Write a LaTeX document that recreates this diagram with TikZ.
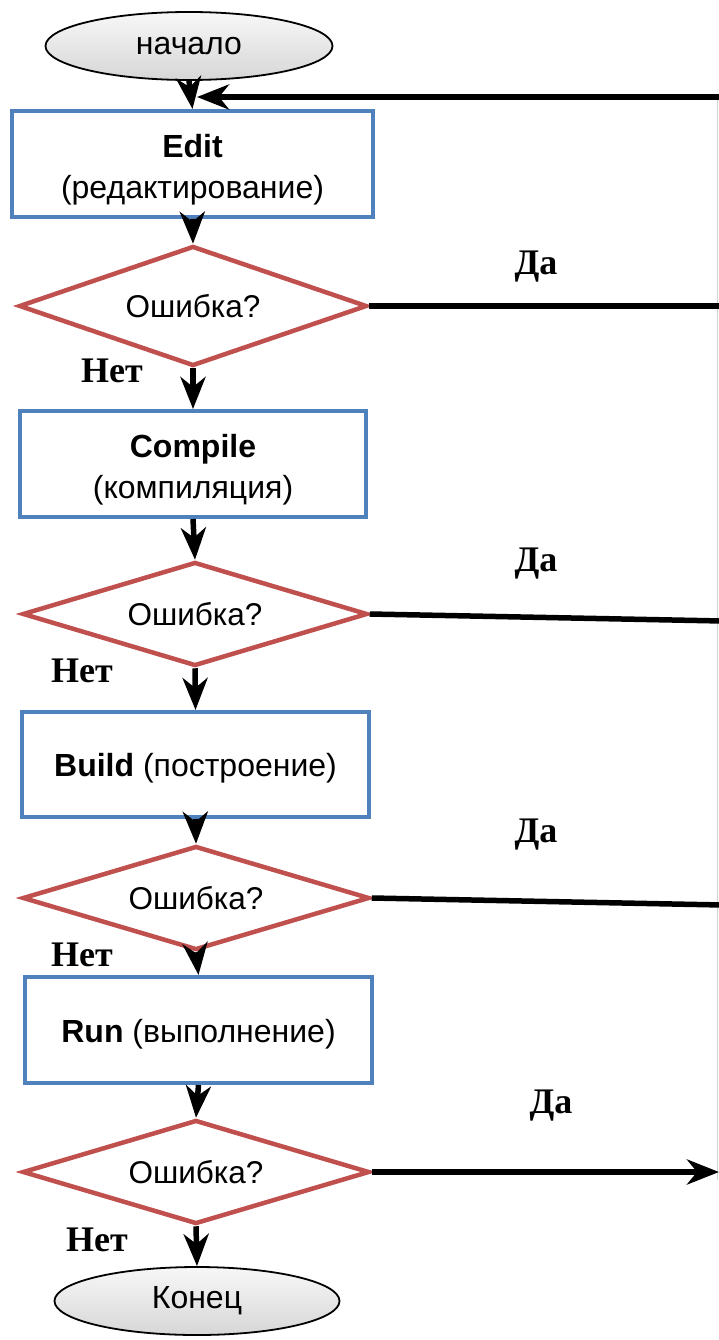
\documentclass[tikz,border=0pt]{standalone}
\usepackage{fontspec}
\setmainfont{Liberation Sans}
\newfontfamily\lblfont{Liberation Serif}
\usetikzlibrary{shapes.geometric,arrows.meta}
\definecolor{boxblue}{HTML}{4F81BD}
\definecolor{diared}{HTML}{C0504D}
\newcommand{\topstrut}[1]{\rule{0pt}{#1}}
\begin{document}
\begin{tikzpicture}[x=1pt,y=-1pt,
  procbox/.style={draw=boxblue, line width=4pt, fill=white, inner sep=0pt, align=center,
    font=\fontsize{32}{41}\selectfont},
  decis/.style={draw=diared, line width=4.5pt, shape=diamond, fill=white, inner sep=0pt, aspect=3,
    font=\fontsize{31.5}{36}\selectfont},
  term/.style={draw=black, line width=1.8pt, ellipse, top color=gray!6, bottom color=gray!32,
    inner sep=0pt, minimum width=287pt, minimum height=68pt, font=\fontsize{32}{36}\selectfont},
  flow/.style={line width=5.5pt, -{Stealth[length=32pt,width=25pt,inset=10pt]}},
  backline/.style={line width=5.5pt},
  lbl/.style={font=\lblfont\bfseries\fontsize{36}{40}\selectfont}
]
\useasboundingbox (0,0) rectangle (719,1340);

% nodes
\node[term] (start) at (189,46) {начало};
\node[procbox, minimum width=361pt, minimum height=106pt] (edit) at (192.5,164)
  {\topstrut{35pt}\textbf{Edit}\\(редактирование)};
\node[decis, minimum width=348pt, minimum height=120pt] (d1) at (193,306) {Ошибка?};
\node[procbox, minimum width=346pt, minimum height=106pt] (compile) at (193,464)
  {\topstrut{35pt}\textbf{Compile}\\(компиляция)};
\node[decis, minimum width=345pt, minimum height=104pt] (d2) at (195,614) {Ошибка?};
\node[procbox, minimum width=347pt, minimum height=105pt] (build) at (195.5,764.5)
  {\topstrut{31pt}\textbf{Build} (построение)};
\node[decis, minimum width=347pt, minimum height=104pt] (d3) at (196,898) {Ошибка?};
\node[procbox, minimum width=347pt, minimum height=106pt] (run) at (198.5,1030)
  {\topstrut{31pt}\textbf{Run} (выполнение)};
\node[decis, minimum width=347pt, minimum height=104pt] (d4) at (196,1172) {Ошибка?};
\node[term, minimum width=285pt] (end) at (197,1301) {Конец};

% labels
\node[lbl] (yes1) at (536,267) {Да};
\node[lbl] (yes2) at (536,564) {Да};
\node[lbl] (yes3) at (536,835) {Да};
\node[lbl] (yes4) at (551,1106) {Да};
\node[lbl] (no1) at (112,371) {Нет};
\node[lbl] (no2) at (82,671) {Нет};
\node[lbl] (no3) at (82,955) {Нет};
\node[lbl] (no4) at (97,1240) {Нет};

% return path coordinates (right edge, partly off the page)
\coordinate (r0) at (722.5,97);
\coordinate (j0) at (197,97);
\coordinate (r1) at (722.5,306);
\coordinate (r2) at (722.5,621);
\coordinate (r3) at (722.5,905);
\coordinate (r4) at (722.5,1172);
\coordinate (t4) at (719,1172);

% shadow of the return line
\draw[gray!35, line width=1.5pt] (717.5,100) -- (717.5,1180);

% main flow
\draw[flow] (start.south) -- (edit.north);
\draw[flow] (edit.south) -- (d1.north);
\draw[flow] (d1.south) -- (compile.north);
\draw[flow] (compile.south) -- (d2.north);
\draw[flow] (d2.south) -- (build.north);
\draw[flow] (build.south) -- (d3.north);
\draw[flow] (d3.south) -- (run.north);
\draw[flow] (run.south) -- (d4.north);
\draw[flow] (d4.south) -- (end.north);

% error branches
\draw[backline] (d1.east) -- (r1);
\draw[backline] (d2.east) -- (r2);
\draw[backline] (d3.east) -- (r3);
\draw[flow] (d4.east) -- (t4);
\draw[backline] (r4) -- (r0);
\draw[flow] (r0) -- (j0);
\end{tikzpicture}
\end{document}
